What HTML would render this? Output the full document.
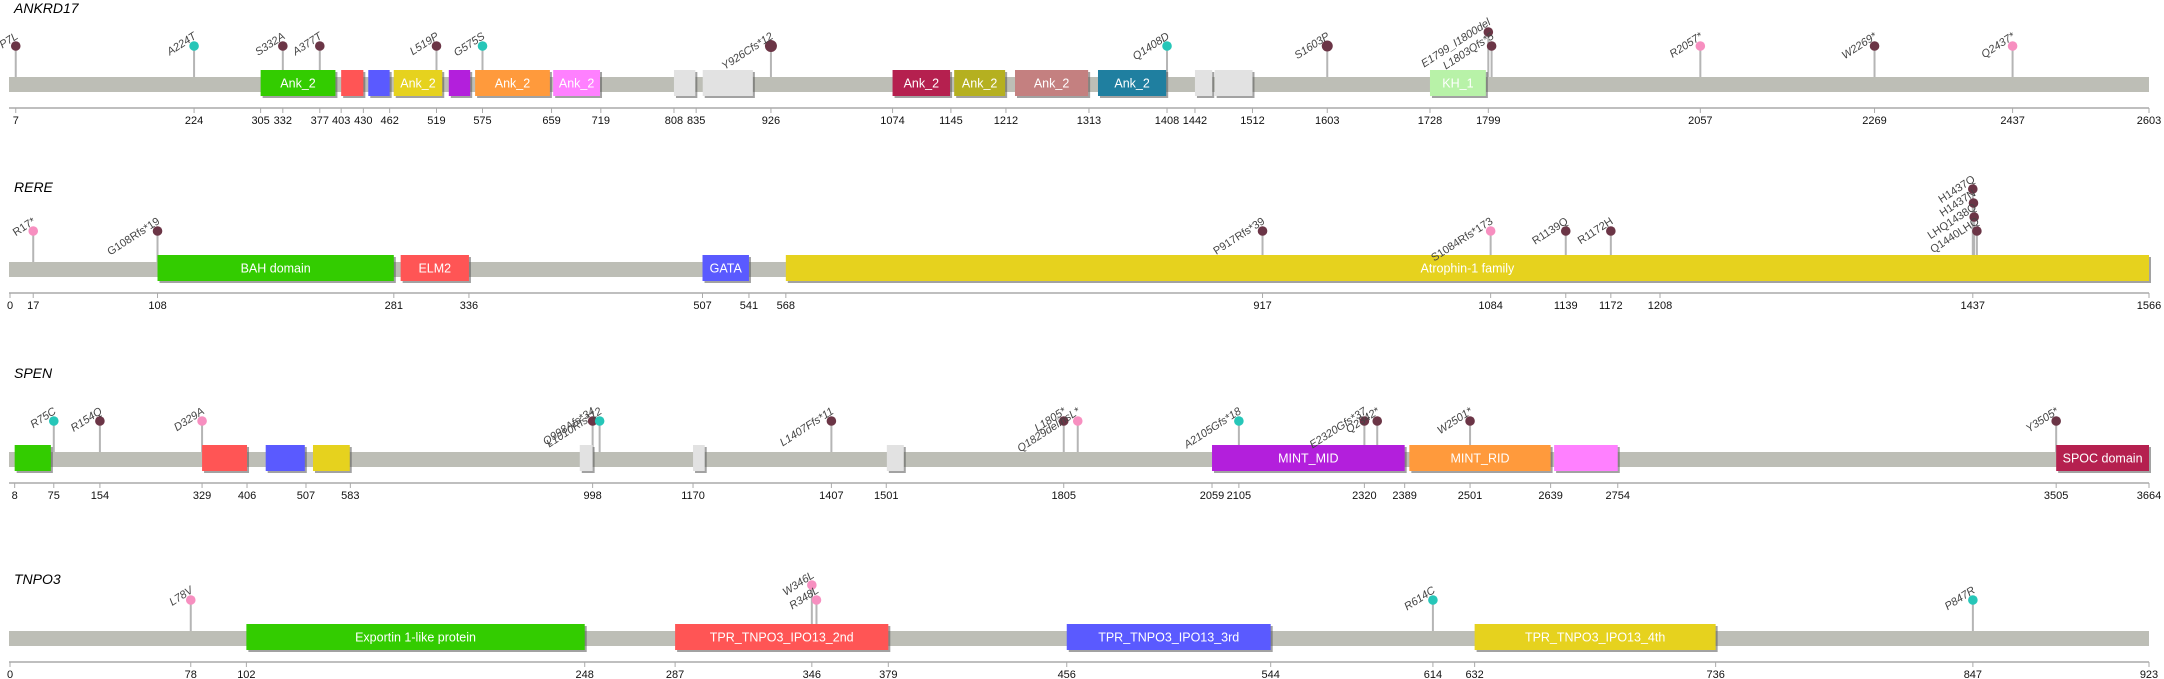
<!DOCTYPE html>
<html><head><meta charset="utf-8">
<style>
html,body{margin:0;padding:0;background:#fff;}
svg{display:block;}
text{font-family:"Liberation Sans",sans-serif;}
</style></head>
<body>
<svg id="c" width="2164" height="679" xmlns="http://www.w3.org/2000/svg"></svg>
<script>
var D='#6b3546',T='#26c6b8',P='#f78fc0';
var G='#33cc00',R='#ff5555',B='#5a5aff',Y='#e6d21e',GR='#e2e2e2';
var rows=[
{name:'ANKRD17',max:2603,top:70,ty:13,it:true,
ticks:[7,224,305,332,377,403,430,462,519,575,659,719,808,835,926,1074,1145,1212,1313,1408,1442,1512,1603,1728,1799,2057,2269,2437,2603],
dom:[[305,396,G,'Ank_2'],[403,430,R,''],[436,462,B,''],[467,526,Y,'Ank_2'],[534,560,'#b31fdc',''],[566,657,'#ff9a3c','Ank_2'],[661,718,'#ff80ff','Ank_2'],[808,834,GR,''],[843,904,GR,''],[1074,1144,'#b5204f','Ank_2'],[1149,1211,'#b5b020','Ank_2'],[1223,1312,'#c48080','Ank_2'],[1324,1407,'#1f7fa0','Ank_2'],[1442,1463,GR,''],[1466,1512,GR,''],[1728,1796,'#b8f2a8','KH_1']],
mut:[[7,'P7L',D],[224,'A224T',T],[332,'S332A',D],[377,'A377T',D],[519,'L519P',D],[575,'G575S',T],[926,'Y926Cfs*12',D,0,6],[1408,'Q1408D',T],[1603,'S1603P',D,0,5.5],[1799,'E1799_I1800del',D,14],[1803,'L1803Qfs*5',D],[2057,'R2057*',P],[2269,'W2269*',D],[2437,'Q2437*',P]]},
{name:'RERE',max:1566,top:255,ty:192,it:false,
ticks:[0,17,108,281,336,507,541,568,917,1084,1139,1172,1208,1437,1566],
dom:[[108,281,G,'BAH domain'],[286,336,R,'ELM2'],[507,541,B,'GATA'],[568,1566,Y,'Atrophin-1 family']],
mut:[[17,'R17*',P],[108,'G108Rfs*19',D],[917,'P917Rfs*39',D],[1084,'S1084Rfs*173',P],[1139,'R1139Q',D],[1172,'R1172H',D],[1437,'H1437Q',D,42],[1437.5,'H1437N',D,28],[1438,'LHQ1438Q',D,14],[1440,'Q1440LHQ',D]]},
{name:'SPEN',max:3664,top:445,ty:378,it:true,
ticks:[8,75,154,329,406,507,583,998,1170,1407,1501,1805,2059,2105,2320,2389,2501,2639,2754,3505,3664],
dom:[[8,70,G,''],[329,406,R,''],[438,505,B,''],[519,582,Y,''],[976,998,GR,''],[1170,1190,GR,''],[1502,1531,GR,''],[2059,2389,'#b31fdc','MINT_MID'],[2397,2639,'#ff9a3c','MINT_RID'],[2645,2754,'#ff80ff',''],[3505,3664,'#b5204f','SPOC domain']],
mut:[[75,'R75C',T],[154,'R154Q',D],[329,'D329A',P],[998,'Q998Afs*34',D],[1010,'L1010Rfs*12',T],[1407,'L1407Ffs*11',D],[1805,'L1805*',D],[1829,'Q1829delinsL*',P],[2105,'A2105Gfs*18',T],[2320,'E2320Gfs*37',D],[2342,'Q2342*',D],[2501,'W2501*',D],[3505,'Y3505*',D]]},
{name:'TNPO3',max:923,top:624,ty:584,it:true,
ticks:[0,78,102,248,287,346,379,456,544,614,632,736,847,923],
dom:[[102,248,G,'Exportin 1-like protein'],[287,379,R,'TPR_TNPO3_IPO13_2nd'],[456,544,B,'TPR_TNPO3_IPO13_3rd'],[632,736,Y,'TPR_TNPO3_IPO13_4th']],
mut:[[78,'L78V',P],[346,'W346L',P,15],[348,'R348L',P],[614,'R614C',T],[847,'P847R',T]]}
];
var s='';
function X(r,p){return 10+p/r.max*2139;}
rows.forEach(function(r){
 var t=r.top;
 s+='<text x="14" y="'+r.ty+'" font-size="14" font-style="italic" fill="#000">'+r.name+'</text>';
 s+='<rect x="9" y="'+(t+7)+'" width="'+(X(r,r.max)-9)+'" height="15" fill="#bdbeb6"/>';
 r.mut.forEach(function(m){var x=X(r,m[0]);var hy=t-24-(m[3]||0);
  s+='<line x1="'+x+'" y1="'+hy+'" x2="'+x+'" y2="'+(t+7)+'" stroke="#b5b5b5" stroke-width="2"/>';});
 r.dom.forEach(function(d){var x1=X(r,d[0]),x2=X(r,d[1]);
  s+='<rect x="'+(x1+2)+'" y="'+(t+2)+'" width="'+(x2-x1)+'" height="26" fill="#555" opacity="0.55"/>';
  s+='<rect x="'+x1+'" y="'+t+'" width="'+(x2-x1)+'" height="26" fill="'+d[2]+'"/>';
  if(d[3])s+='<text x="'+((x1+x2)/2)+'" y="'+(t+17.5)+'" font-size="12.5" fill="#fff" text-anchor="middle">'+d[3]+'</text>';});
 r.mut.forEach(function(m){var x=X(r,m[0]);var hy=t-24-(m[3]||0);var rad=m[4]||4.8;
  s+='<circle cx="'+x+'" cy="'+hy+'" r="'+rad+'" fill="'+m[2]+'"/>';
  var lx=x+3,ly=hy-8;
  s+='<text x="'+lx+'" y="'+ly+'" font-size="11" fill="#444" text-anchor="end"'+(r.it?' font-style="italic"':'')+' transform="rotate(-33 '+lx+' '+ly+')">'+m[1]+'</text>';});
 var ay=t+38;
 s+='<line x1="9" y1="'+ay+'" x2="'+X(r,r.max)+'" y2="'+ay+'" stroke="#aaa" stroke-width="1.5"/>';
 r.ticks.forEach(function(k){var x=X(r,k);
  s+='<line x1="'+x+'" y1="'+ay+'" x2="'+x+'" y2="'+(ay+5)+'" stroke="#aaa" stroke-width="1"/>';
  s+='<text x="'+x+'" y="'+(ay+16)+'" font-size="11" fill="#111" text-anchor="middle">'+k+'</text>';});
});
document.getElementById('c').innerHTML=s;
</script>
</body></html>
